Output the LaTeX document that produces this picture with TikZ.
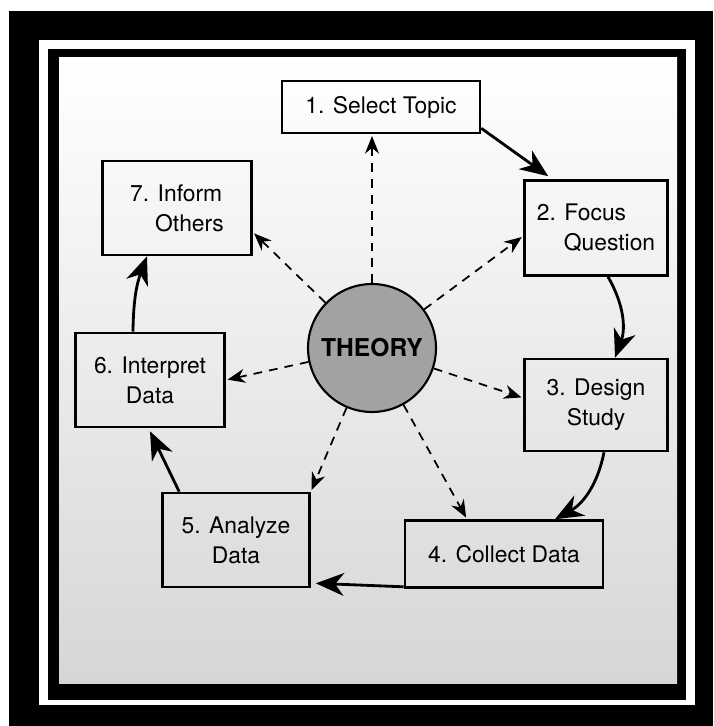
\documentclass[tikz,border=0pt]{standalone}
\usepackage{fontspec}
\setmainfont{TeX Gyre Heros}
\usetikzlibrary{arrows.meta,calc}

\definecolor{theorygray}{RGB}{162,162,162}
\definecolor{pagegray}{RGB}{214,214,214}

\begin{document}
\begin{tikzpicture}[x=0.02cm, y=-0.02cm,
	stage/.style={draw=black, line width=1.5pt, align=center, inner sep=0pt, font=\fontsize{13}{17}\selectfont},
	flow/.style={line width=1.6pt, -{Stealth[length=16pt,width=13pt,inset=5pt]}},
	link/.style={line width=1pt, dash pattern=on 5pt off 4pt, shorten >=1pt, -{Stealth[length=10pt,width=8pt]}}]

				% frame
				\useasboundingbox (0,0) rectangle (713,726);
				\fill[white] (0,0) rectangle (713,726);
				\fill[black] (9,11) rectangle (713,726);
				\fill[white] (39,40) rectangle (695,705);
				\fill[black] (48,49) rectangle (686,700);
				\shade[top color=white, bottom color=pagegray] (59,58) rectangle (677,683);

				\node[stage, minimum width=3.96cm, minimum height=1.04cm] (select) at (381,107) {1. Select Topic};
				\node[stage, minimum width=2.86cm, minimum height=1.9cm, align=left] (focus) at (596,228) {2. Focus\\\hspace*{0.54cm}Question};
				\node[stage, minimum width=2.86cm, minimum height=1.84cm] (design) at (596,405) {3. Design\\Study};
				\node[stage, minimum width=3.96cm, minimum height=1.34cm] (collect) at (504,554) {4. Collect Data};
				\node[stage, minimum width=2.94cm, minimum height=1.88cm] (analyze) at (236,540) {5. Analyze\\Data};
				\node[stage, minimum width=2.98cm, minimum height=1.88cm] (interpret) at (150,380) {6. Interpret\\Data};
				\node[stage, minimum width=2.98cm, minimum height=1.88cm, align=left] (inform) at (177,208) {7. Inform\\\hspace*{0.5cm}Others};

				\node[circle, draw, line width=1.2pt, fill=theorygray, minimum size=2.56cm, font=\fontsize{14}{16}\selectfont\bfseries] (theory) at (372,348) {THEORY};

				\coordinate (toSelect) at (theory |- select.south);
				\coordinate (toFocus) at ($(focus.west)+(0,8)$);
				\coordinate (toDesign) at ($(design.west)+(0,-7)$);
				\coordinate (toCollect) at ($(collect.north)+(-37,0)$);
				\coordinate (toAnalyze) at (analyze.north east);
				\coordinate (toInterpret) at (interpret.east);
				\coordinate (toInform) at ($(inform.south east)!0.25!(inform.north east)$);
				\foreach \t in {toSelect,toFocus,toDesign,toCollect,toAnalyze,toInterpret,toInform} {
					\draw[link] (theory) -- (\t);
				}

				\draw[flow] ($(select.south east)+(0,-6)$) -- ($(focus.north west)+(25,-3)$);
				\draw[flow] ($(focus.south)+(12,0)$) to[bend left=25] ($(design.north)+(19,0)$);
				\draw[flow] ($(design.south)+(8,0)$) to[bend left=25] ($(collect.north)+(51,0)$);
				\draw[flow] ($(collect.south west)+(0,-2)$) -- ($(analyze.south east)+(5,-5)$);
				\draw[flow] ($(analyze.north west)+(18,0)$) -- ($(interpret.south)+(0,3)$);
				\draw[flow] ($(interpret.north)+(-17,0)$) to[bend left=10] ($(inform.south)+(-30,0)$);
			\end{tikzpicture}
\end{document}
